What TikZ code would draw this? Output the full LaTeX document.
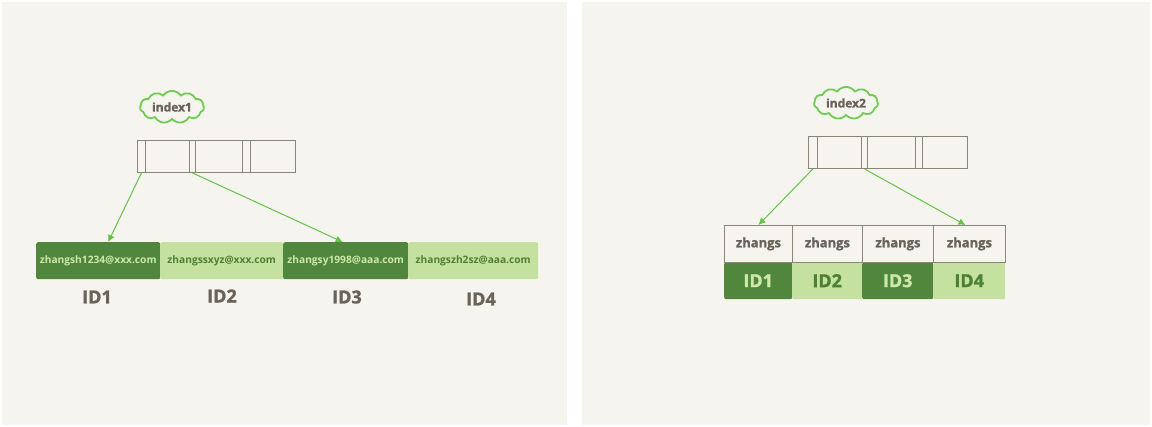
\documentclass[tikz,border=0pt]{standalone}
\usepackage{fontspec}
\setmainfont{Open Sans}
\newfontfamily\inkfont{Open Sans}[FakeBold=1.2]
\usetikzlibrary{shapes.symbols,arrows.meta}
\definecolor{paper}{RGB}{245,244,239}
\definecolor{darkleaf}{RGB}{80,135,60}
\definecolor{lightleaf}{RGB}{197,225,160}
\definecolor{leafink}{RGB}{78,128,52}
\definecolor{paleink}{RGB}{205,232,170}
\definecolor{arrowgreen}{RGB}{102,194,74}
\definecolor{cloudgreen}{RGB}{112,205,82}
\definecolor{boxgray}{RGB}{140,133,122}
\definecolor{inkgray}{RGB}{105,99,90}

\begin{document}
\begin{tikzpicture}[x=1pt,y=-1pt,
    cell/.style={draw=boxgray, line width=0.9pt, inner sep=0pt, anchor=north west, minimum height=#1},
    tag/.style={cloud, cloud puffs=11, cloud puff arc=110, aspect=2.4, draw=cloudgreen, line width=1.8pt,
      minimum width=64pt, minimum height=30pt, inner sep=1pt, text=inkgray, font=\inkfont\fontsize{12}{14}\selectfont\bfseries},
    dark/.style={fill=darkleaf, rounded corners=2pt, inner sep=0pt, anchor=north west, text=paleink},
    light/.style={fill=lightleaf, rounded corners=2pt, inner sep=0pt, anchor=north west, text=leafink},
    email/.style={font=\fontsize{10.2}{12}\selectfont\bfseries, minimum height=37pt},
    idlabel/.style={text=inkgray, font=\inkfont\fontsize{18}{20}\selectfont\bfseries},
    link/.style={draw=arrowgreen, line width=1pt, -{Latex[length=7pt,width=7pt]}}]

  % panels
  \useasboundingbox (0,0) rectangle (1152,427);
  \fill[white] (0,0) rectangle (1152,427);
  \fill[paper] (2,2) rectangle (567,425);
  \fill[paper] (582,2) rectangle (1150,425);

  % left: index1 on the full email
  \node[tag] (T1) at (172,107) {index1};

  \node[cell=32pt, minimum width=8pt]  (P1) at (137,140) {};
  \node[cell=32pt, minimum width=44pt] (K1) at (145,140) {};
  \node[cell=32pt, minimum width=6pt]  (P2) at (189,140) {};
  \node[cell=32pt, minimum width=47pt] (K2) at (195,140) {};
  \node[cell=32pt, minimum width=8pt]  (P3) at (242,140) {};
  \node[cell=32pt, minimum width=45pt] (K3) at (250,140) {};

  \node[dark, email, minimum width=124pt]  (R1) at (36,242)  {zhangsh1234@xxx.com};
  \node[light, email, minimum width=123pt] (R2) at (160,242) {zhangssxyz@xxx.com};
  \node[dark, email, minimum width=125pt]  (R3) at (283,242) {zhangsy1998@aaa.com};
  \node[light, email, minimum width=130pt] (R4) at (408,242) {zhangszh2sz@aaa.com};

  \node[idlabel] (L1) at (97,297)  {ID1};
  \node[idlabel] (L2) at (222,296) {ID2};
  \node[idlabel] (L3) at (347,297) {ID3};
  \node[idlabel] (L4) at (481,299) {ID4};

  \draw[link] (P1.south) -- ([xshift=10pt]R1.north);
  \draw[link] (P2.south) -- ([xshift=-3pt]R3.north);

  % right: index2 on the prefix
  \node[tag] (T2) at (846,103) {index2};

  \node[cell=32pt, minimum width=9pt]  (P4) at (808,136) {};
  \node[cell=32pt, minimum width=44pt] (K4) at (817,136) {};
  \node[cell=32pt, minimum width=6pt]  (P5) at (861,136) {};
  \node[cell=32pt, minimum width=48pt] (K5) at (867,136) {};
  \node[cell=32pt, minimum width=7pt]  (P6) at (915,136) {};
  \node[cell=32pt, minimum width=45pt] (K6) at (922,136) {};

  \node[dark, idlabel, text=paleink, minimum width=68pt, minimum height=37pt]  (D1) at (724,262) {ID1};
  \node[light, idlabel, text=leafink, minimum width=70pt, minimum height=37pt] (D2) at (792,262) {ID2};
  \node[dark, idlabel, text=paleink, minimum width=71pt, minimum height=37pt]  (D3) at (862,262) {ID3};
  \node[light, idlabel, text=leafink, minimum width=72pt, minimum height=37pt] (D4) at (933,262) {ID4};

  \node[cell=37pt, minimum width=68pt, text=inkgray, font=\inkfont\fontsize{13}{15}\selectfont\bfseries] (Z1) at (724,225) {zhangs};
  \node[cell=37pt, minimum width=70pt, text=inkgray, font=\inkfont\fontsize{13}{15}\selectfont\bfseries] (Z2) at (792,225) {zhangs};
  \node[cell=37pt, minimum width=71pt, text=inkgray, font=\inkfont\fontsize{13}{15}\selectfont\bfseries] (Z3) at (862,225) {zhangs};
  \node[cell=37pt, minimum width=72pt, text=inkgray, font=\inkfont\fontsize{13}{15}\selectfont\bfseries] (Z4) at (933,225) {zhangs};

  \draw[link] (P4.south) -- (Z1.north);
  \draw[link] (P5.south) -- ([xshift=-4pt]Z4.north);
\end{tikzpicture}
\end{document}
